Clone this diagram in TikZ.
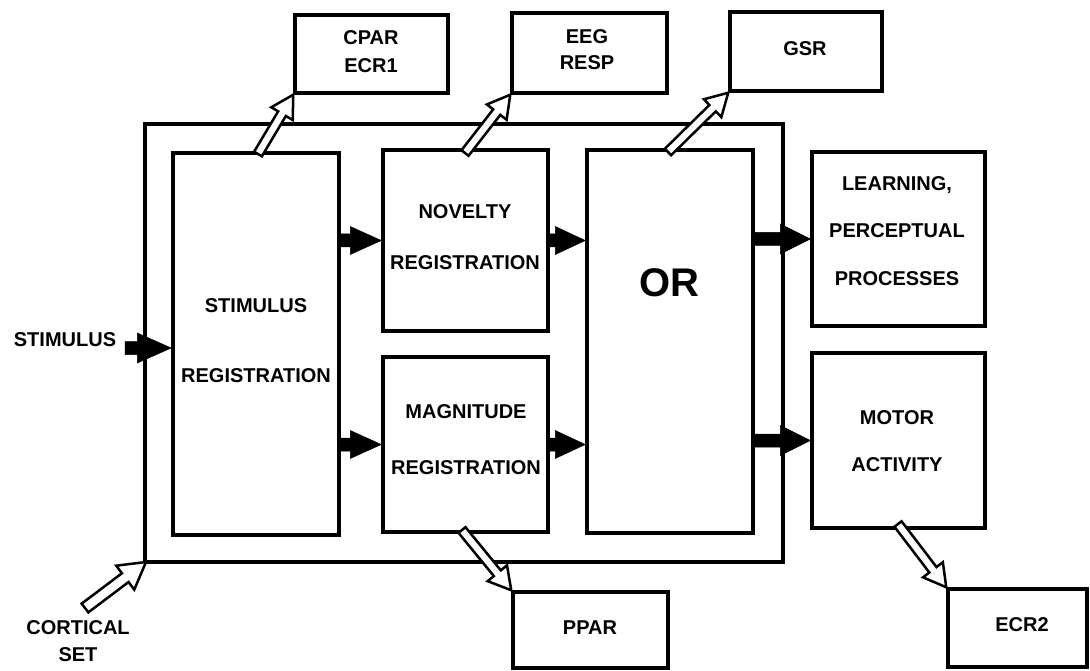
\documentclass[tikz,border=0pt]{standalone}
\usepackage{fontspec}
\setmainfont{Liberation Sans}
\usetikzlibrary{calc}
% block arrow: #1 style, #2 from, #3 to, #4 shaft half-width, #5 head half-width, #6 head length
\newcommand\blockarr[6]{%
  \draw[#1] ($(#2)!#4!90:(#3)$) -- ($(#3)!#6!(#2)!#4!-90:(#2)$) -- ($(#3)!#6!(#2)!#5!-90:(#2)$)
    -- (#3) -- ($(#3)!#6!(#2)!#5!90:(#2)$) -- ($(#3)!#6!(#2)!#4!90:(#2)$) -- ($(#2)!#4!-90:(#3)$) -- cycle;}
\tikzset{
  box/.style={draw, line width=3.5pt, inner sep=0pt},
  lbl/.style={font=\fontsize{20}{24}\bfseries\selectfont, align=center, inner sep=0pt},
  solid/.style={fill=black, draw=black, line width=0.5pt, line join=miter},
  hollow/.style={fill=white, draw=black, line width=2.5pt, line join=miter}
}
\begin{document}
\begin{tikzpicture}[x=1pt, y=-1pt]
\useasboundingbox (0,0) rectangle (1090,671);
% boxes
\node[box, line width=3.2pt, minimum width=638pt, minimum height=438pt] (outer) at (464,343) {};
\node[box, minimum width=166pt, minimum height=382pt] (stim) at (256,344) {};
\node[box, minimum width=165pt, minimum height=181pt] (nov) at (465.5,240.5) {};
\node[box, minimum width=165pt, minimum height=175pt] (mag) at (465.5,444.5) {};
\node[box, minimum width=166pt, minimum height=383pt] (or) at (670,341.5) {};
\node[box, minimum width=173pt, minimum height=174pt] (learn) at (898.5,239) {};
\node[box, minimum width=173pt, minimum height=175pt] (motor) at (898.5,440.5) {};
\node[box, minimum width=153pt, minimum height=78pt] (cpar) at (371.5,54) {};
\node[box, minimum width=155pt, minimum height=80pt] (eeg) at (589.5,53) {};
\node[box, minimum width=152pt, minimum height=79pt] (gsr) at (806,51.5) {};
\node[box, minimum width=155pt, minimum height=76pt] (ppar) at (590.5,630) {};
\node[box, minimum width=139pt, minimum height=78pt] (ecr2) at (1017.5,628) {};
% texts
\node[lbl] (tstimulus) at (65,340) {STIMULUS};
\node[lbl, font=\fontsize{20}{27}\bfseries\selectfont] (tcortical) at (78,641) {CORTICAL\\SET};
\node[lbl, font=\fontsize{20}{70}\bfseries\selectfont] (tstim) at (256,341) {STIMULUS\\REGISTRATION};
\node[lbl, font=\fontsize{20}{51}\bfseries\selectfont] (tnov) at (465,237.5) {NOVELTY\\REGISTRATION};
\node[lbl, font=\fontsize{20}{56}\bfseries\selectfont] (tmag) at (466,440) {MAGNITUDE\\REGISTRATION};
\node[lbl, font=\fontsize{40}{48}\bfseries\selectfont] (tor) at (669,283) {OR};
\node[lbl, font=\fontsize{20}{47.5}\bfseries\selectfont] (tlearn) at (897,231) {LEARNING,\\PERCEPTUAL\\PROCESSES};
\node[lbl, font=\fontsize{20}{47}\bfseries\selectfont] (tmotor) at (897,441.5) {MOTOR\\ACTIVITY};
\node[lbl, font=\fontsize{20}{28}\bfseries\selectfont] (tcpar) at (371,52) {CPAR\\ECR1};
\node[lbl, font=\fontsize{20}{26}\bfseries\selectfont] (teeg) at (587,50) {EEG\\RESP};
\node[lbl] (tgsr) at (805,49) {GSR};
\node[lbl] (tppar) at (590,628) {PPAR};
\node[lbl] (tecr2) at (1022,625) {ECR2};
% coordinates for arrow ends
\coordinate (stimin) at (125,348);
\coordinate (stimtip) at (stim.west |- stimin);
\coordinate (snovs) at (stim.east |- nov.west);
\coordinate (smags) at (stim.east |- mag.west);
\coordinate (novout) at (or.west |- nov.east);
\coordinate (magout) at (or.west |- mag.east);
\coordinate (orl) at (or.east |- learn.west);
\coordinate (orm) at (or.east |- motor.west);
\coordinate (c1) at (258,154);
\coordinate (c2) at (465,153);
\coordinate (c3) at (668,152);
\coordinate (c4) at (462,530);
\coordinate (c5) at (898,524);
\coordinate (c6) at (85,608);
\coordinate (outercorner) at (146,562);
% solid arrows
\blockarr{solid}{stimin}{stimtip}{6.5pt}{15pt}{34pt}
\blockarr{solid}{snovs}{nov.west}{6.5pt}{14pt}{31pt}
\blockarr{solid}{smags}{mag.west}{6.5pt}{14pt}{31pt}
\blockarr{solid}{nov.east}{novout}{6.5pt}{14pt}{30pt}
\blockarr{solid}{mag.east}{magout}{6.5pt}{14pt}{30pt}
\blockarr{solid}{orl}{learn.west}{6.5pt}{15pt}{30pt}
\blockarr{solid}{orm}{motor.west}{6.5pt}{15pt}{30pt}
% hollow arrows
\blockarr{hollow}{c1}{cpar.south west}{4.5pt}{12.5pt}{22pt}
\blockarr{hollow}{c2}{eeg.south west}{4.5pt}{12.5pt}{22pt}
\blockarr{hollow}{c3}{gsr.south west}{4.5pt}{12.5pt}{22pt}
\blockarr{hollow}{c4}{ppar.north west}{4.5pt}{12.5pt}{22pt}
\blockarr{hollow}{c5}{ecr2.north west}{4.5pt}{12.5pt}{22pt}
\blockarr{hollow}{c6}{outercorner}{5.5pt}{15pt}{26pt}
\end{tikzpicture}
\end{document}
